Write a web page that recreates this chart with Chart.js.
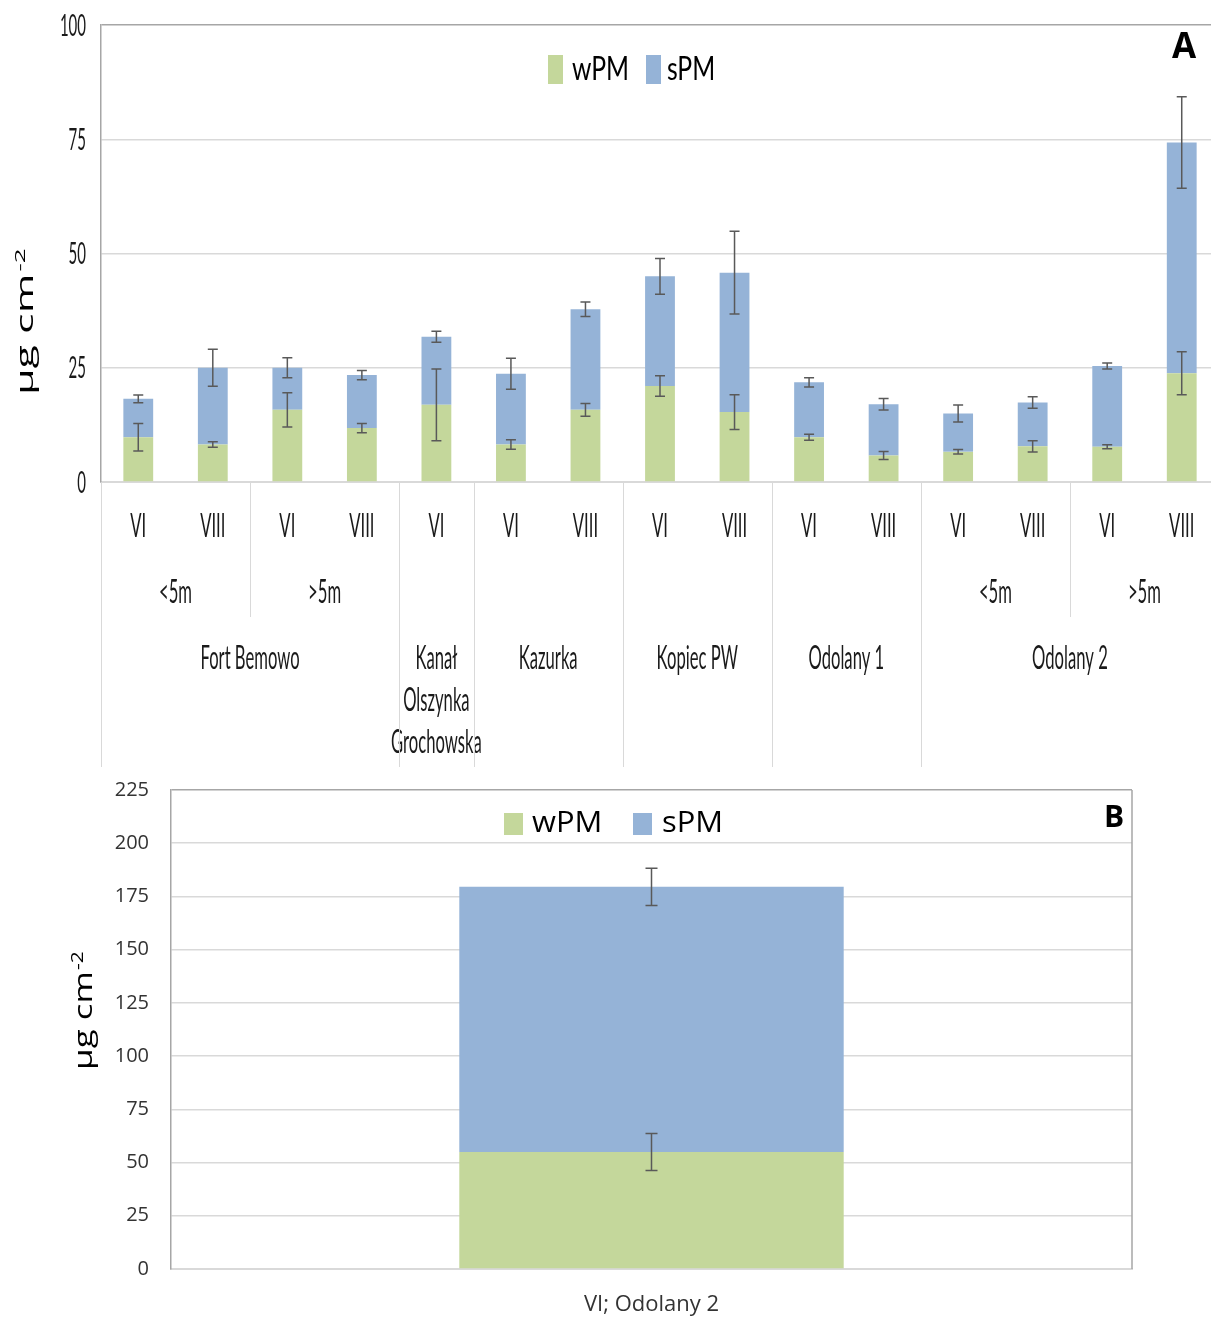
<!DOCTYPE html>
<html>
<head>
<meta charset="utf-8">
<script src="https://cdn.jsdelivr.net/npm/chart.js@4.4.1/dist/chart.umd.min.js"></script>
<style>
  html, body { margin: 0; padding: 0; background: #fff; overflow: hidden; width: 1211px; height: 1320px; }
  #chartA { position: absolute; left: 0; top: 0; }
  #chartB { position: absolute; left: 0; top: 770px; }
</style>
</head>
<body>
<canvas id="chartA" width="1225" height="770"></canvas>
<canvas id="chartB" width="1211" height="550"></canvas>
<script>
// ---- Panel A: particulate matter per site, depth class and month ----
const monthsA = ['VI', 'VIII', 'VI', 'VIII', 'VI', 'VI', 'VIII', 'VI', 'VIII', 'VI', 'VIII', 'VI', 'VIII', 'VI', 'VIII'];
const depthA  = ['<5m', '<5m', '>5m', '>5m', '', '', '', '', '', '', '', '<5m', '<5m', '>5m', '>5m'];
const sitesA  = [
  ['Fort Bemowo'], ['Fort Bemowo'], ['Fort Bemowo'], ['Fort Bemowo'],
  ['Kanał', 'Olszynka', 'Grochowska'],
  ['Kazurka'], ['Kazurka'],
  ['Kopiec PW'], ['Kopiec PW'],
  ['Odolany 1'], ['Odolany 1'],
  ['Odolany 2'], ['Odolany 2'], ['Odolany 2'], ['Odolany 2']
];
const wpmA    = [9.8, 8.2, 15.8, 11.8, 16.9, 8.2, 15.8, 21.0, 15.3, 9.8, 5.8, 6.6, 7.8, 7.7, 23.8];
const spmA    = [8.4, 16.8, 9.2, 11.6, 14.9, 15.5, 22.0, 24.0, 30.5, 12.0, 11.2, 8.4, 9.6, 17.7, 50.5];
const wpmErrA = [3.0, 0.6, 3.75, 1.0, 7.85, 1.05, 1.4, 2.25, 3.8, 0.65, 0.85, 0.5, 1.25, 0.45, 4.7];
const spmErrA = [0.85, 4.05, 2.2, 1.0, 1.2, 3.4, 1.6, 3.9, 9.05, 1.0, 1.25, 1.85, 1.25, 0.65, 10.0];
const ticksA  = [0, 25, 50, 75, 100];

// ---- Panel B: single sample ----
const categoriesB = ['VI; Odolany 2'];
const wpmB    = [55];
const spmB    = [124.5];
const wpmErrB = [8.7];
const spmErrB = [8.7];
const ticksB  = [0, 25, 50, 75, 100, 125, 150, 175, 200, 225];

const seriesNames = ['wPM', 'sPM'];
const GREEN = '#c4d79b';
const BLUE  = '#95b3d7';
const GRID  = '#d9d9d9';
const FRAME = '#a6a6a6';

// text with optional horizontal squeeze
function txt(ctx, s, x, y, font, sx, align, color) {
  ctx.save();
  ctx.translate(x, y);
  ctx.scale(sx, 1);
  ctx.font = font;
  ctx.textAlign = align || 'center';
  ctx.textBaseline = 'middle';
  ctx.fillStyle = color || '#1a1a1a';
  ctx.fillText(s, 0, 0);
  ctx.restore();
}

// rotated unit title "μg cm-2" with a raised exponent
function unitTitle(ctx, x, y, size, sy, gap, rise) {
  ctx.save();
  ctx.translate(x, y);
  ctx.rotate(-Math.PI / 2);
  ctx.scale(1, sy);
  ctx.fillStyle = '#000';
  ctx.textAlign = 'left';
  ctx.textBaseline = 'alphabetic';
  ctx.font = size + 'px "Open Sans"';
  ctx.fillText('μg cm', 0, 0);
  const w = ctx.measureText('μg cm').width;
  ctx.font = Math.round(size * 0.6) + 'px "Open Sans"';
  ctx.fillText('-2', w + gap, -rise);
  ctx.restore();
}

// whiskers at the top of each stacked segment
const errorBars = {
  id: 'errorBars',
  afterDatasetsDraw(chart, args, opts) {
    const ctx = chart.ctx;
    const ys = chart.scales.y;
    ctx.save();
    ctx.strokeStyle = '#595959';
    ctx.lineWidth = 1.5;
    chart.data.datasets.forEach((ds, di) => {
      const meta = chart.getDatasetMeta(di);
      meta.data.forEach((bar, i) => {
        let top = 0;
        for (let k = 0; k <= di; k++) top += chart.data.datasets[k].data[i];
        const e = ds.errors[i];
        const y1 = ys.getPixelForValue(top + e);
        const y2 = ys.getPixelForValue(top - e);
        const x = bar.x, c = opts.cap;
        ctx.beginPath();
        ctx.moveTo(x, y1); ctx.lineTo(x, y2);
        ctx.moveTo(x - c, y1); ctx.lineTo(x + c, y1);
        ctx.moveTo(x - c, y2); ctx.lineTo(x + c, y2);
        ctx.stroke();
      });
    });
    ctx.restore();
  }
};

function runs(keys) {
  const out = [];
  keys.forEach((k, i) => {
    const last = out[out.length - 1];
    if (last && last.key === k) last.end = i;
    else out.push({ key: k, start: i, end: i });
  });
  return out;
}

const panelADecor = {
  id: 'panelADecor',
  afterDraw(chart) {
    const ctx = chart.ctx;
    const xs = chart.scales.x, ys = chart.scales.y;
    const base = ys.getPixelForValue(0);
    const cw = xs.getPixelForValue(1) - xs.getPixelForValue(0);
    const eL = i => xs.getPixelForValue(i) - cw / 2;
    const eR = i => xs.getPixelForValue(i) + cw / 2;
    const labelFont = '32px Lato';
    const sq = 0.52;

    // y tick labels
    ticksA.forEach(v => txt(ctx, String(v), 86, ys.getPixelForValue(v) + 1, '30px Lato', 0.5, 'right'));

    // row 1: months
    monthsA.forEach((m, i) => txt(ctx, m, xs.getPixelForValue(i), 527, labelFont, sq));

    ctx.save();
    ctx.strokeStyle = GRID;
    ctx.lineWidth = 1;
    // row 2: depth classes
    runs(depthA.map((d, i) => JSON.stringify([sitesA[i], d]))).forEach(g => {
      const d = depthA[g.start];
      if (!d) return;
      txt(ctx, d, (eL(g.start) + eR(g.end)) / 2, 593, labelFont, sq);
      ctx.beginPath();
      ctx.moveTo(Math.round(eR(g.end)) + 0.5, base);
      ctx.lineTo(Math.round(eR(g.end)) + 0.5, 617);
      ctx.stroke();
    });
    // row 3: sites
    runs(sitesA.map(s => JSON.stringify(s))).forEach(g => {
      const lines = sitesA[g.start];
      const cx = (eL(g.start) + eR(g.end)) / 2;
      lines.forEach((l, k) => txt(ctx, l, cx, 659 + k * 42, labelFont, sq));
      [eL(g.start), eR(g.end)].forEach(x => {
        ctx.beginPath();
        ctx.moveTo(Math.round(x) + 0.5, base);
        ctx.lineTo(Math.round(x) + 0.5, 767);
        ctx.stroke();
      });
    });
    ctx.restore();

    // legend
    const items = [{ c: GREEN, x: 548, tx: 572 }, { c: BLUE, x: 646, tx: 667 }];
    items.forEach((it, k) => {
      ctx.fillStyle = it.c;
      ctx.fillRect(it.x, 55, 15, 29);
      txt(ctx, seriesNames[k], it.tx, 69, '33px Lato', 0.75, 'left', '#000');
    });

    // panel letter
    txt(ctx, 'A', 1184, 48, 'bold 35px "Open Sans"', 1, 'center', '#000');

    // axis title
    unitTitle(ctx, 33, 395, 43, 0.56, 2, 15);
  }
};

new Chart(document.getElementById('chartA'), {
  type: 'bar',
  data: {
    labels: monthsA,
    datasets: [
      { label: seriesNames[0], data: wpmA, errors: wpmErrA, backgroundColor: GREEN, barPercentage: 0.4, categoryPercentage: 1.0 },
      { label: seriesNames[1], data: spmA, errors: spmErrA, backgroundColor: BLUE, barPercentage: 0.4, categoryPercentage: 1.0 }
    ]
  },
  options: {
    responsive: false,
    animation: false,
    devicePixelRatio: 1,
    layout: { padding: { left: 101, top: 25, right: 6, bottom: 280 } },
    plugins: { legend: { display: false }, tooltip: { enabled: false }, errorBars: { cap: 5 } },
    scales: {
      x: {
        stacked: true,
        grid: { display: false },
        ticks: { display: false },
        border: { color: GRID, width: 2 }
      },
      y: {
        stacked: true,
        min: 0, max: 100,
        ticks: { display: false, stepSize: 25 },
        grid: { drawTicks: false, lineWidth: 1.5, color: c => (c.tick && c.tick.value === 100 ? FRAME : GRID) },
        border: { color: FRAME, width: 1.5 }
      }
    }
  },
  plugins: [errorBars, panelADecor]
});

const panelBDecor = {
  id: 'panelBDecor',
  afterDraw(chart) {
    const ctx = chart.ctx;
    const xs = chart.scales.x, ys = chart.scales.y;
    const a = chart.chartArea;

    // frame: right edge
    ctx.save();
    ctx.strokeStyle = FRAME;
    ctx.lineWidth = 1.5;
    ctx.beginPath();
    ctx.moveTo(a.right, a.top);
    ctx.lineTo(a.right, a.bottom);
    ctx.stroke();
    ctx.restore();

    ticksB.forEach(v => txt(ctx, String(v), 149, ys.getPixelForValue(v), '20px "Open Sans"', 1, 'right', '#333'));
    categoriesB.forEach((c, i) => txt(ctx, c, xs.getPixelForValue(i), 535, '22px "Open Sans"', 1, 'center', '#333'));

    const items = [{ c: GREEN, x: 504, tx: 532 }, { c: BLUE, x: 633, tx: 662 }];
    items.forEach((it, k) => {
      ctx.fillStyle = it.c;
      ctx.fillRect(it.x, 43, 19, 22);
      txt(ctx, seriesNames[k], it.tx, 53, '30px "Open Sans"', 1.03, 'left', '#000');
    });

    txt(ctx, 'B', 1114, 48, 'bold 30px "Open Sans"', 1, 'center', '#000');

    unitTitle(ctx, 92, 300, 35, 0.74, 1, 12);
  }
};

new Chart(document.getElementById('chartB'), {
  type: 'bar',
  data: {
    labels: categoriesB,
    datasets: [
      { label: seriesNames[0], data: wpmB, errors: wpmErrB, backgroundColor: GREEN, barPercentage: 0.4, categoryPercentage: 1.0 },
      { label: seriesNames[1], data: spmB, errors: spmErrB, backgroundColor: BLUE, barPercentage: 0.4, categoryPercentage: 1.0 }
    ]
  },
  options: {
    responsive: false,
    animation: false,
    devicePixelRatio: 1,
    layout: { padding: { left: 171, top: 20, right: 79, bottom: 43 } },
    plugins: { legend: { display: false }, tooltip: { enabled: false }, errorBars: { cap: 6 } },
    scales: {
      x: {
        stacked: true,
        grid: { display: false },
        ticks: { display: false },
        border: { color: GRID, width: 2 }
      },
      y: {
        stacked: true,
        min: 0, max: 225,
        ticks: { display: false, stepSize: 25 },
        grid: { drawTicks: false, lineWidth: 1.5, color: c => (c.tick && c.tick.value === 225 ? FRAME : GRID) },
        border: { color: FRAME, width: 1.5 }
      }
    }
  },
  plugins: [errorBars, panelBDecor]
});
</script>
</body>
</html>
